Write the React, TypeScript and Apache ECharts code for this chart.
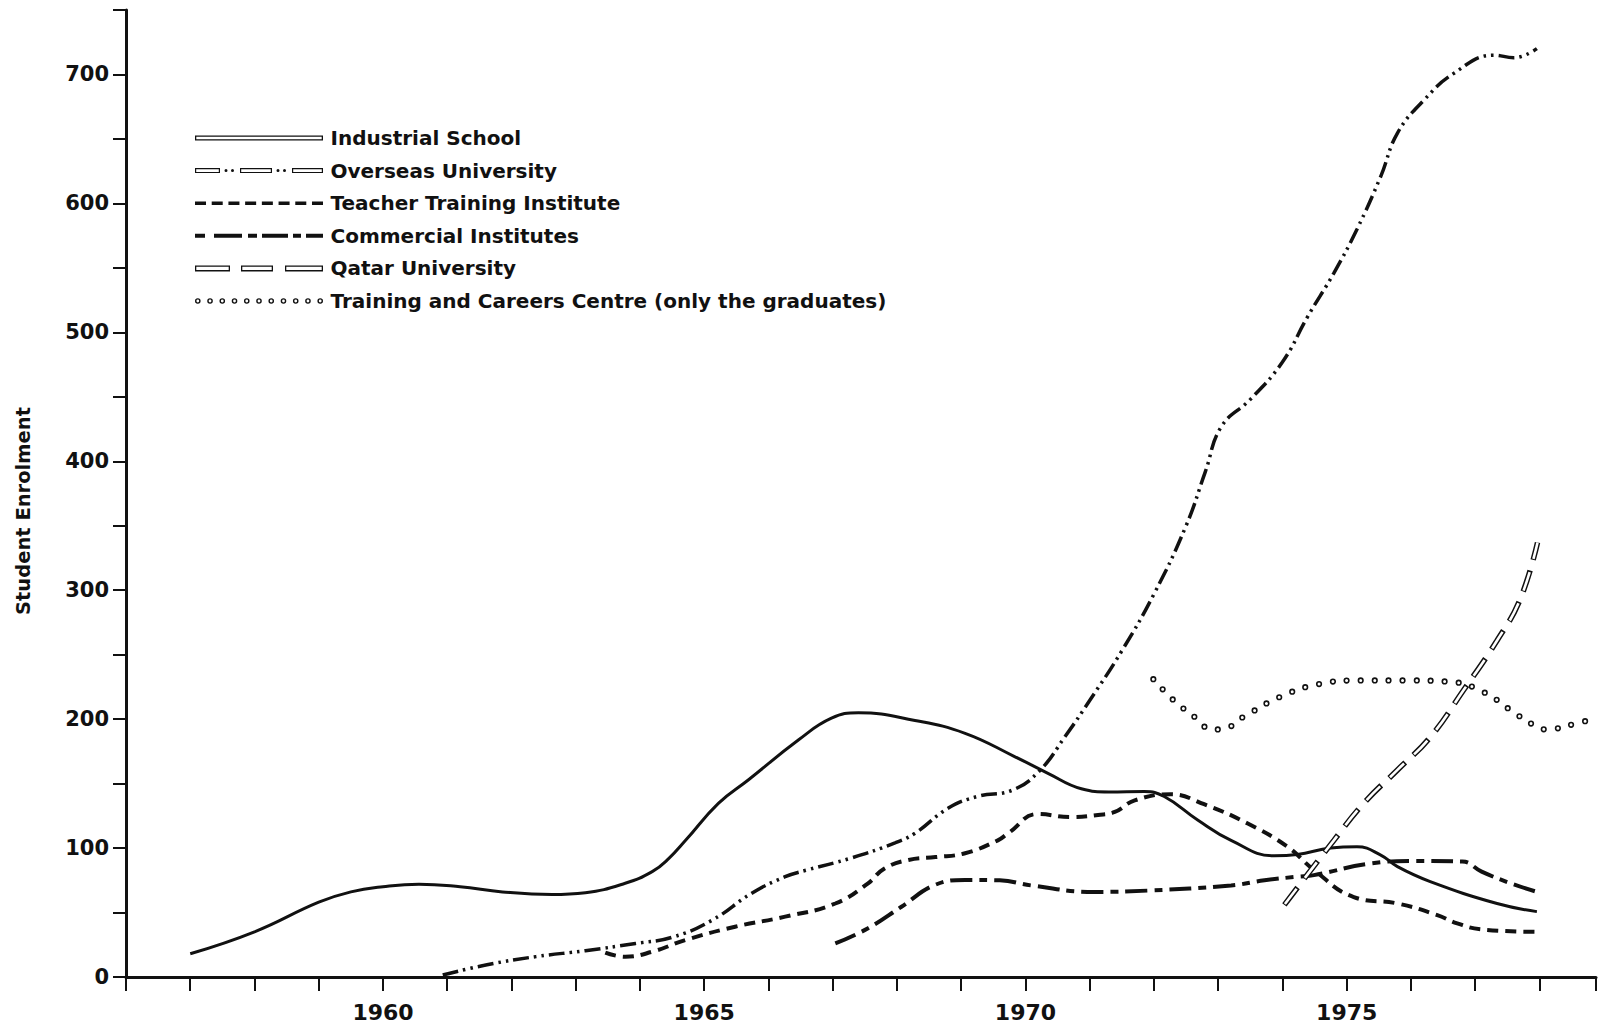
import React, { useEffect, useRef } from "react";
import * as echarts from "echarts";

// ---------------- data ----------------
const industrialYears = [1957, 1958, 1959, 1959.5, 1960, 1960.56, 1961.2, 1961.86, 1962.63, 1963.15, 1963.77, 1964.19, 1964.45, 1964.71, 1965.22, 1965.69, 1966.47, 1966.98, 1967.4, 1968.28, 1969.06, 1969.83, 1970.35, 1970.87, 1971.3, 1971.85, 1972.16, 1972.68, 1973.2, 1973.87, 1974.23, 1974.75, 1975.16, 1975.53, 1975.79, 1976.3, 1977.34, 1977.96];
const industrialValues = [18, 35, 58, 66, 70, 72, 70, 66, 64, 65.4, 72.7, 81.7, 92, 106, 134.7, 153, 184, 200.7, 205, 199, 189, 171, 158, 146, 143.5, 143.8, 140, 121.8, 106, 94, 95, 100, 101, 94.6, 85.6, 74, 57, 50.7];

const overseasYears = [1960.93, 1961.6, 1962.38, 1963.15, 1963.93, 1964.5, 1965.12, 1965.74, 1966.26, 1966.6, 1967.27, 1967.97, 1968.28, 1968.8, 1969.25, 1969.8, 1970.22, 1970.61, 1971.02, 1971.5, 1972.0, 1972.5, 1972.8, 1973.05, 1973.5, 1974.0, 1974.39, 1974.8, 1975.16, 1975.53, 1975.79, 1976.2, 1976.67, 1977.29, 1977.6, 1977.96];
const overseasValues = [1.5, 9.3, 15.8, 20.4, 26, 30.8, 44, 65, 77.8, 83, 92, 104, 111.5, 131, 140, 145, 160, 186, 216, 253, 297, 350, 392, 427, 448, 477, 512, 546, 580, 621, 654.5, 680, 701, 715, 713, 720];

const teacherYears = [1963.46, 1963.77, 1964.19, 1964.71, 1965.48, 1966.26, 1967.04, 1967.55, 1967.8, 1968.18, 1968.6, 1969.06, 1969.57, 1969.73, 1970.19, 1970.71, 1971.13, 1971.39, 1971.7, 1972.26, 1972.78, 1973.46, 1974.08, 1974.49, 1975.11, 1975.79, 1976.41, 1976.72, 1977.08, 1977.96];
const teacherValues = [18.9, 15.7, 19.6, 28.7, 39, 46.8, 57, 72.7, 84, 90.8, 93, 96, 106, 111.5, 126.4, 124, 125.7, 128, 137, 141.7, 134, 119, 101, 83, 62, 57, 48, 41.6, 37, 35];

const commercialYears = [1967.04, 1967.55, 1968.07, 1968.59, 1969.06, 1969.6, 1970.09, 1971.07, 1971.9, 1973.2, 1973.72, 1974.23, 1974.49, 1975.37, 1976.05, 1976.8, 1977.1, 1977.55, 1977.96];
const commercialValues = [26, 37.8, 54.5, 71.4, 75.3, 75, 71, 66, 67, 71, 75, 77.8, 79, 88, 90, 89.5, 81.7, 72.7, 66];

const qatarYears = [1974.03, 1974.8, 1975.27, 1975.79, 1976.3, 1976.82, 1977.34, 1977.7, 1977.97];
const qatarValues = [56, 106, 135, 160.6, 186, 222.6, 261, 293, 337];

const trainingYears = [1971.99, 1972.32, 1972.65, 1972.84, 1973.04, 1973.4, 1973.95, 1974.55, 1975.22, 1975.94, 1976.61, 1977.13, 1977.55, 1977.89, 1978.11, 1978.53, 1978.75];
const trainingValues = [231, 214, 201, 193, 192, 202, 217, 227, 230, 230, 229, 221, 207, 196, 192, 196, 199];

const seriesNames = [
  "Industrial School",
  "Overseas University",
  "Teacher Training Institute",
  "Commercial Institutes",
  "Qatar University",
  "Training and Careers Centre (only the graduates)",
];

const xLabelYears = [1960, 1965, 1970, 1975];
const yLabelStep = 100;
const yMaxLabel = 700;
const axisTitle = "Student Enrolment";

// ---------------- styling helpers ----------------
const FONT = "'DejaVu Sans', 'Noto Sans', sans-serif";
const INK = "#111";

const toPairs = (xs: number[], ys: number[]) => xs.map((x, i) => [x, ys[i]]);

const rectP = (x0: number, x1: number, y0: number, y1: number) =>
  `M${x0} ${y0}H${x1}V${y1}H${x0}Z`;
const holeP = (x0: number, x1: number, y0: number, y1: number) =>
  `M${x0} ${y0}V${y1}H${x1}V${y0}Z`;
const hollowP = (x0: number, x1: number, h: number, t: number) =>
  rectP(x0, x1, 0, h) + holeP(x0 + t, x1 - t, t, h - t);
const circleP = (cx: number, cy: number, r: number, sweep: number) =>
  `M${cx - r} ${cy}A${r} ${r} 0 1 ${sweep} ${cx + r} ${cy}A${r} ${r} 0 1 ${sweep} ${cx - r} ${cy}Z`;

const industrialIcon = "path://" + hollowP(0, 128, 5, 1.3);
const overseasIcon =
  "path://" +
  hollowP(0, 25, 5, 1.2) +
  circleP(31, 2.5, 1.5, 1) +
  circleP(37.5, 2.5, 1.5, 1) +
  hollowP(45, 77, 5, 1.2) +
  circleP(83, 2.5, 1.5, 1) +
  circleP(89.5, 2.5, 1.5, 1) +
  hollowP(97, 128, 5, 1.2);
const teacherIcon =
  "path://" +
  Array.from({ length: 8 }, (_, i) => rectP(i * 16.7, i * 16.7 + 11, 0, 3.6)).join("");
const commercialIcon =
  "path://" +
  [
    [0, 10],
    [19, 47],
    [53, 62],
    [67, 93],
    [98, 106],
    [111, 128],
  ]
    .map(([a, b]) => rectP(a, b, 0, 4))
    .join("");
const qatarIcon =
  "path://" + hollowP(0, 35, 6, 1.3) + hollowP(46, 78, 6, 1.3) + hollowP(90, 128, 6, 1.3);
const trainingIcon =
  "path://" +
  Array.from({ length: 11 }, (_, i) => {
    const cx = 2.8 + (i * 122.4) / 10;
    return circleP(cx, 2.8, 2.8, 1) + circleP(cx, 2.8, 1.4, 0);
  }).join("");

const legendIcons = [industrialIcon, overseasIcon, teacherIcon, commercialIcon, qatarIcon, trainingIcon];

const baseLine = (name: string, data: number[][], lineStyle: any, z = 2) => ({
  name,
  type: "line",
  data,
  smooth: 0.45,
  symbol: "none",
  showSymbol: false,
  silent: true,
  z,
  color: INK,
  lineStyle: { color: INK, ...lineStyle },
});

export default function App() {
  const ref = useRef<HTMLDivElement>(null);

  useEffect(() => {
    if (!ref.current) return;
    const chart = echarts.init(ref.current, undefined, { renderer: "svg" });

    const industrial = toPairs(industrialYears, industrialValues);
    const overseas = toPairs(overseasYears, overseasValues);
    const teacher = toPairs(teacherYears, teacherValues);
    const commercial = toPairs(commercialYears, commercialValues);
    const qatar = toPairs(qatarYears, qatarValues);
    const training = toPairs(trainingYears, trainingValues);

    const option: any = {
      animation: false,
      backgroundColor: "#ffffff",
      grid: { left: 126, right: 0, top: 10, bottom: 50, containLabel: false },
      xAxis: {
        type: "value",
        min: 1956,
        max: 1978.88,
        interval: 1,
        axisLine: { show: true, onZero: false, lineStyle: { color: INK, width: 3 } },
        axisTick: { show: true, length: 14, lineStyle: { color: INK, width: 2 } },
        axisLabel: {
          margin: 24,
          fontFamily: FONT,
          fontWeight: "bold",
          fontSize: 22,
          color: INK,
          formatter: (v: number) => (xLabelYears.includes(Math.round(v * 100) / 100) ? String(v) : ""),
        },
        splitLine: { show: false },
      },
      yAxis: {
        type: "value",
        min: 0,
        max: 750,
        interval: 50,
        axisLine: { show: true, lineStyle: { color: INK, width: 3 } },
        axisTick: { show: true, length: 13, lineStyle: { color: INK, width: 2 } },
        axisLabel: {
          margin: 17,
          fontFamily: FONT,
          fontWeight: "bold",
          fontSize: 21,
          color: INK,
          formatter: (v: number) => (v % yLabelStep === 0 && v <= yMaxLabel ? String(v) : ""),
        },
        splitLine: { show: false },
      },
      legend: {
        orient: "vertical",
        left: 190,
        top: 123,
        itemWidth: 128,
        itemHeight: 22,
        itemGap: 12.6,
        selectedMode: false,
        symbolKeepAspect: true,
        textStyle: {
          fontFamily: FONT,
          fontWeight: "bold",
          fontSize: 20,
          color: INK,
          padding: [0, 0, 0, 2.5],
        },
        data: seriesNames.map((name, i) => ({
          name,
          icon: legendIcons[i],
          itemStyle: { color: INK, borderWidth: 0 },
        })),
      },
      graphic: [
        {
          type: "text",
          x: 23,
          y: 511,
          rotation: Math.PI / 2,
          style: {
            text: axisTitle,
            fontFamily: FONT,
            fontWeight: "bold",
            fontSize: 19.5,
            fill: INK,
            align: "center",
            verticalAlign: "middle",
          },
        },
      ],
      series: [
        baseLine(seriesNames[0], industrial, { width: 3 }),
        baseLine(seriesNames[1], overseas, { width: 3.5, type: [16, 5, 2.5, 5, 2.5, 5], cap: "butt" }),
        baseLine(seriesNames[2], teacher, { width: 4, type: [11, 7], cap: "butt" }),
        baseLine(seriesNames[3], commercial, { width: 4, type: [22, 7, 8, 7], cap: "butt" }),
        baseLine(seriesNames[4], qatar, { width: 5.5, type: [22, 11], cap: "butt" }, 3),
        baseLine(seriesNames[5], training, { width: 6.2, type: [0, 14], cap: "round" }, 3),
        {
          ...baseLine("qatar-outline", qatar, {
            width: 2.6,
            type: [19.4, 13.6],
            dashOffset: -1.3,
            cap: "butt",
            color: "#ffffff",
          }, 4),
          color: "#ffffff",
        },
        {
          ...baseLine("training-rings", training, {
            width: 3,
            type: [0, 14],
            cap: "round",
            color: "#ffffff",
          }, 4),
          color: "#ffffff",
        },
      ],
    };

    chart.setOption(option);
    return () => chart.dispose();
  }, []);

  return (
    <div
      ref={ref}
      style={{ position: "fixed", left: 0, top: 0, width: 1599, height: 1027, background: "#fff" }}
    />
  );
}
